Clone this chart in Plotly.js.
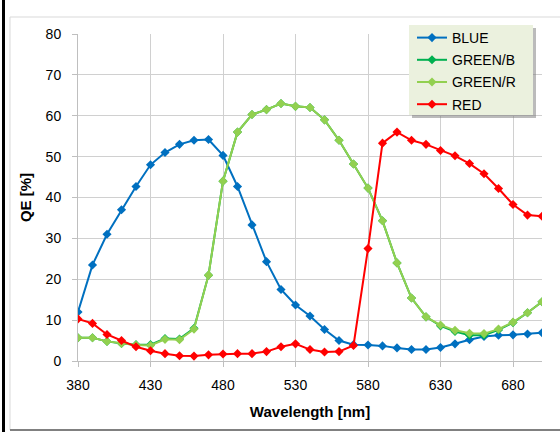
<!DOCTYPE html>
<html>
<head>
<meta charset="utf-8">
<script src="https://cdn.plot.ly/plotly-3.0.1.min.js"></script>
<style>
html,body{margin:0;padding:0;background:#fff;}
#chart{width:560px;height:432px;}
</style>
</head>
<body>
<div id="chart"></div>
<script>
const wavelength = [380,390,400,410,420,430,440,450,460,470,480,490,500,510,520,530,540,550,560,570,580,590,600,610,620,630,640,650,660,670,680,690,700];
const blue   = [12.0,23.5,31.0,37.0,42.7,48.0,51.0,53.0,54.0,54.2,50.3,42.7,33.3,24.3,17.5,13.7,11.0,7.7,5.0,4.0,3.9,3.7,3.2,2.8,2.8,3.3,4.2,5.2,6.0,6.3,6.4,6.6,6.9];
const greenB = [5.7,5.7,4.8,4.3,4.0,4.0,5.5,5.4,8.0,21.0,44.0,56.0,60.3,61.5,63.0,62.3,62.0,59.0,54.0,48.2,42.3,34.3,24.0,15.4,10.8,8.6,7.2,6.3,6.3,7.6,9.4,11.8,14.5];
const greenR = [5.7,5.7,4.8,4.3,3.9,3.8,5.3,5.2,7.8,21.0,44.0,56.0,60.3,61.5,63.0,62.3,62.0,59.0,54.0,48.2,42.3,34.3,24.0,15.4,10.8,8.8,7.5,6.8,6.7,7.8,9.5,11.8,14.5];
const red    = [10.3,9.2,6.5,5.0,3.5,2.5,1.8,1.3,1.2,1.5,1.7,1.8,1.8,2.3,3.5,4.2,2.8,2.2,2.3,3.8,27.5,53.3,56.0,54.0,53.0,51.5,50.2,48.3,45.8,42.2,38.3,35.7,35.4];
const seriesNames = ["BLUE","GREEN/B","GREEN/R","RED"];
const seriesColors = ["#0070C0","#00B050","#92D050","#FF0000"];
const xTicks = [380,430,480,530,580,630,680];
const yTicks = [0,10,20,30,40,50,60,70,80];

const values = [blue, greenB, greenR, red];
const traces = values.map((v,i)=>({
  x: wavelength, y: v, name: seriesNames[i], legendgroup:'g'+i, type:'scatter', mode:'lines+markers',
  line:{color:seriesColors[i], width:2},
  marker:{symbol:'diamond', size:7, color:seriesColors[i]}
}));

const L=78, R=542, T=34, B=361;
const px = x => (x-L)/(R-L);
const py = y => (B-y)/(B-T);

const layout = {
  width:560, height:432,
  margin:{l:L, r:560-R, t:T, b:432-B},
  paper_bgcolor:'#fff', plot_bgcolor:'#fff',
  font:{family:'"Liberation Sans", Arial, sans-serif', size:14, color:'#000'},
  showlegend:true,
  legend:{x:px(412), y:py(22), xanchor:'left', yanchor:'top', bgcolor:'rgba(0,0,0,0)',
          borderwidth:0, font:{size:14, color:'#000'}, tracegroupgap:1},
  xaxis:{range:[380,700], tickvals:xTicks, ticktext:xTicks.map(String),
         showgrid:true, gridcolor:'#D0D0D0', gridwidth:1,
         showline:true, linecolor:'#BFBFBF', linewidth:1,
         ticks:'outside', ticklen:5, tickcolor:'#BFBFBF', ticklabelstandoff:6,
         zeroline:false, fixedrange:true,
         title:{text:'<b>Wavelength [nm]</b>', font:{size:15}, standoff:14}},
  yaxis:{range:[0,80], tickvals:yTicks, showgrid:true, gridcolor:'#D0D0D0', gridwidth:1,
         showline:true, linecolor:'#BFBFBF', linewidth:1,
         ticks:'outside', ticklen:5, tickcolor:'#BFBFBF', ticklabelstandoff:8,
         zeroline:false, fixedrange:true,
         title:{text:'<b>QE [%]</b>', font:{size:15}, standoff:10}},
  shapes:[
    {type:'rect', xref:'paper', yref:'paper', x0:px(412), x1:px(536), y0:py(28), y1:py(118),
     fillcolor:'rgba(120,120,120,0.5)', line:{width:0}, layer:'above'},
    {type:'rect', xref:'paper', yref:'paper', x0:px(409), x1:px(533), y0:py(25), y1:py(115),
     fillcolor:'#EBF1DE', line:{width:0}, layer:'above'},
    {type:'line', xref:'paper', yref:'paper', x0:px(3.5), x1:px(3.5), y0:py(0), y1:py(432),
     line:{color:'#000', width:3}},
    {type:'line', xref:'paper', yref:'paper', x0:px(10), x1:px(10), y0:py(17), y1:py(430),
     line:{color:'#D9D9D9', width:1}},
    {type:'line', xref:'paper', yref:'paper', x0:px(10), x1:px(560), y0:py(17), y1:py(17),
     line:{color:'#D9D9D9', width:1}},
    {type:'line', xref:'paper', yref:'paper', x0:px(10), x1:px(560), y0:py(430), y1:py(430),
     line:{color:'#808080', width:2}}
  ]
};
Plotly.newPlot('chart', traces, layout, {displayModeBar:false, staticPlot:true});
</script>
</body>
</html>
